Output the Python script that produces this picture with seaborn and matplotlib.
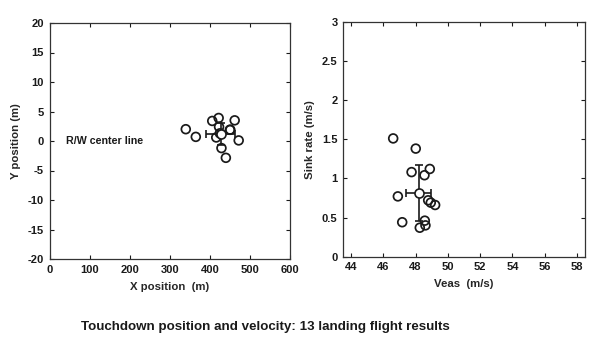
import matplotlib
matplotlib.use("Agg")
import matplotlib.pyplot as plt
import seaborn as sns
import pandas as pd

# Touchdown position data (13 flights)
x_pos = [340, 365, 406, 422, 423, 416, 451, 462, 472, 429, 440, 425, 450]
y_pos = [2.0, 0.7, 3.4, 3.9, 2.4, 0.6, 1.9, 3.5, 0.1, -1.2, -2.85, 1.3, 1.9]
pos_mean = (427, 1.15)
pos_sd = (36, 1.9)

# Touchdown velocity data
veas = [46.61, 48.01, 47.75, 48.55, 48.88, 46.90, 48.78, 48.94, 49.21, 47.17, 48.57, 48.61, 48.26]
sink = [1.51, 1.38, 1.08, 1.04, 1.12, 0.77, 0.72, 0.69, 0.66, 0.44, 0.46, 0.40, 0.37]
vel_mean = (48.18, 0.81)
vel_sd = (0.8, 0.36)

x_ticks = [0, 100, 200, 300, 400, 500, 600]
y_ticks = [-20, -15, -10, -5, 0, 5, 10, 15, 20]
v_ticks = [44, 46, 48, 50, 52, 54, 56, 58]
s_ticks = [0, 0.5, 1, 1.5, 2, 2.5, 3]
s_tick_labels = ["0", "0.5", "1", "1.5", "2", "2.5", "3"]

sns.set_style("ticks")
plt.rcParams['font.family'] = ['Liberation Sans', 'DejaVu Sans']
plt.rcParams['font.weight'] = 'bold'
plt.rcParams['axes.unicode_minus'] = False

fig = plt.figure(figsize=(6, 3.52), dpi=100)
W, H = 600, 352
ax1 = fig.add_axes([49.5 / W, 1 - 259 / H, 240.5 / W, 236 / H])
ax2 = fig.add_axes([343 / W, 1 - 256.7 / H, 242 / W, 235 / H])

pos_df = pd.DataFrame({"x": x_pos, "y": y_pos})
vel_df = pd.DataFrame({"v": veas, "s": sink})

ink = "#1a1a1a"
mk = dict(marker="o", s=40, facecolor="none", edgecolor=ink, linewidth=1.25, legend=False)

sns.scatterplot(data=pos_df, x="x", y="y", ax=ax1, **mk)
ax1.errorbar(pos_mean[0], pos_mean[1], xerr=pos_sd[0], yerr=pos_sd[1], fmt="o",
             ms=6.5, mfc="white", mec=ink, mew=1.2, ecolor=ink, elinewidth=1.2,
             capsize=3, capthick=1.2, zorder=5)
ax1.text(40, 0, "R/W center line", fontsize=7.7, fontweight="bold", va="center", ha="left",
         color=ink)

sns.scatterplot(data=vel_df, x="v", y="s", ax=ax2, **mk)
ax2.errorbar(vel_mean[0], vel_mean[1], xerr=vel_sd[0], yerr=vel_sd[1], fmt="o",
             ms=6.5, mfc="white", mec=ink, mew=1.2, ecolor=ink, elinewidth=1.2,
             capsize=3, capthick=1.2, zorder=5)

lab_kw = dict(fontsize=8.2, fontweight="bold")
ax1.set_xlim(0, 600)
ax1.set_ylim(-20, 20)
ax1.set_xticks(x_ticks)
ax1.set_yticks(y_ticks)
ax1.set_xlabel("X position  (m)", labelpad=5, **lab_kw)
ax1.set_ylabel("Y position (m)", labelpad=5, **lab_kw)

ax2.set_xlim(43.5, 58.5)
ax2.set_ylim(0, 3)
ax2.set_xticks(v_ticks)
ax2.set_yticks(s_ticks)
ax2.set_yticklabels(s_tick_labels)
ax2.set_xlabel("Veas  (m/s)", labelpad=5, **lab_kw)
ax2.set_ylabel("Sink rate (m/s)", labelpad=5, **lab_kw)

for ax in (ax1, ax2):
    ax.tick_params(direction="in", length=3, width=0.8, top=True, right=True,
                   labelsize=8, colors=ink, pad=4)
    for lab in ax.get_xticklabels() + ax.get_yticklabels():
        lab.set_fontweight("bold")
    for sp in ax.spines.values():
        sp.set_visible(True)
        sp.set_color("#333333")
        sp.set_linewidth(0.9)

fig.text(265 / W, 1 - 327 / H, "Touchdown position and velocity: 13 landing flight results",
         ha="center", va="center", fontsize=9.6, fontweight="bold", color=ink)

fig.savefig("out.png", dpi=100, facecolor="white")
